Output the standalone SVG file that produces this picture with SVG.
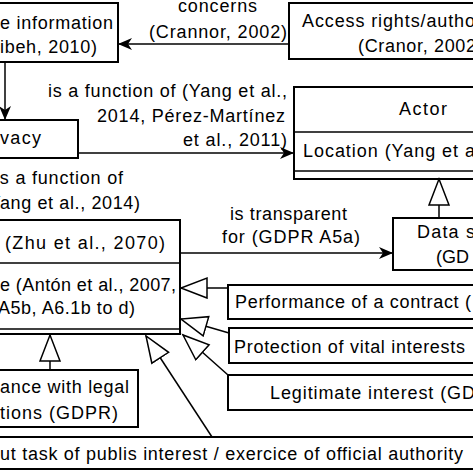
<svg xmlns="http://www.w3.org/2000/svg" width="473" height="473" viewBox="0 0 473 473">
<defs>
<style>
.box{fill:#fff;stroke:#000;stroke-width:2}
.div{stroke:#000;stroke-width:1.5;fill:none}
.edge{stroke:#000;stroke-width:1.5;fill:none}
text{font-family:"Liberation Sans",Arial,sans-serif;font-size:18px;fill:#000}
</style>
<marker id="arrow" markerUnits="userSpaceOnUse" markerWidth="16" markerHeight="14" refX="14" refY="6" orient="auto">
<path d="M0,0 L14,6 L0,12 L4,6 Z" fill="#000"/>
</marker>
<marker id="gen" markerUnits="userSpaceOnUse" markerWidth="30" markerHeight="24" refX="27" refY="11" orient="auto">
<path d="M1,1 L27,11 L1,21 Z" fill="#fff" stroke="#000" stroke-width="1.5"/>
</marker>
</defs>
<rect width="473" height="473" fill="#fff"/>

<g id="n-info">
<rect class="box" x="-10" y="3" width="128" height="59"/>
<text x="0" y="29" textLength="113" lengthAdjust="spacing">e information</text>
<text x="0" y="53" textLength="97" lengthAdjust="spacing">ibeh, 2010)</text>
</g>

<g id="n-access">
<rect class="box" x="289" y="3" width="200" height="56"/>
<text x="302" y="27" textLength="173" lengthAdjust="spacing">Access rights/autho</text>
<text x="358" y="52" textLength="118" lengthAdjust="spacing">(Cranor, 2002</text>
</g>

<g id="n-privacy">
<rect class="box" x="-10" y="120" width="88" height="38"/>
<text x="0" y="144" textLength="41" lengthAdjust="spacing">vacy</text>
</g>

<g id="n-actor">
<rect class="box" x="294" y="87" width="260" height="92"/>
<line class="div" x1="294" y1="132" x2="554" y2="132"/>
<line class="div" x1="294" y1="171" x2="554" y2="171"/>
<text x="423" y="115" text-anchor="middle" textLength="48" lengthAdjust="spacing">Actor</text>
<text x="303" y="157" textLength="172" lengthAdjust="spacing">Location (Yang et a</text>
</g>

<g id="n-datasubject">
<rect class="box" x="393" y="218" width="100" height="52"/>
<text x="417" y="238" textLength="58" lengthAdjust="spacing">Data s</text>
<text x="436" y="263">(GD</text>
</g>

<g id="n-purpose">
<rect class="box" x="-10" y="220" width="190" height="114"/>
<line class="div" x1="-10" y1="263" x2="180" y2="263"/>
<line class="div" x1="-10" y1="329" x2="180" y2="329"/>
<text x="5" y="249" textLength="160" lengthAdjust="spacing">(Zhu et al., 2070)</text>
<text x="0" y="291" textLength="176" lengthAdjust="spacing">e (Antón et al., 2007,</text>
<text x="-2" y="314" textLength="137" lengthAdjust="spacing">A5b, A6.1b to d)</text>
</g>

<g id="n-performance">
<rect class="box" x="228" y="285" width="260" height="34"/>
<text x="235" y="308" textLength="236" lengthAdjust="spacing">Performance of a contract (</text>
</g>

<g id="n-protection">
<rect class="box" x="229" y="328" width="260" height="35"/>
<text x="234" y="353" textLength="231" lengthAdjust="spacing">Protection of vital interests</text>
</g>

<g id="n-legitimate">
<rect class="box" x="228" y="375" width="260" height="35"/>
<text x="270" y="399" textLength="205" lengthAdjust="spacing">Legitimate interest (GD</text>
</g>

<g id="n-compliance">
<rect class="box" x="-10" y="370" width="148" height="57"/>
<text x="0" y="393" textLength="129" lengthAdjust="spacing">ance with legal</text>
<text x="0" y="419" textLength="118" lengthAdjust="spacing">tions (GDPR)</text>
</g>

<g id="n-public">
<rect class="box" x="-10" y="437" width="500" height="32"/>
<text x="0" y="460" textLength="463" lengthAdjust="spacing">ut task of publis interest / exercice of official authority</text>
</g>

<g id="connectors">
<line class="edge" x1="289" y1="44" x2="118" y2="44" marker-end="url(#arrow)"/>
<line class="edge" x1="5" y1="62" x2="5" y2="120" marker-end="url(#arrow)"/>
<line class="edge" x1="78" y1="153" x2="294" y2="153" marker-end="url(#arrow)"/>
<line class="edge" x1="180" y1="253" x2="393" y2="253" marker-end="url(#arrow)"/>
<line class="edge" x1="439" y1="218" x2="439" y2="179" marker-end="url(#gen)"/>
<line class="edge" x1="228" y1="288" x2="181" y2="288" marker-end="url(#gen)"/>
<line class="edge" x1="229" y1="333" x2="181" y2="319" marker-end="url(#gen)"/>
<line class="edge" x1="228" y1="375" x2="183" y2="335" marker-end="url(#gen)"/>
<line class="edge" x1="212" y1="437" x2="146" y2="336" marker-end="url(#gen)"/>
<line class="edge" x1="50" y1="370" x2="50" y2="335" marker-end="url(#gen)"/>
</g>

<g id="labels">
<text x="178" y="12" textLength="79" lengthAdjust="spacing">concerns</text>
<text x="149" y="38" textLength="138" lengthAdjust="spacing">(Crannor, 2002)</text>
<text x="48" y="97" textLength="239" lengthAdjust="spacing">is a function of (Yang et al.,</text>
<text x="97" y="122" textLength="188" lengthAdjust="spacing">2014, Pérez-Martínez</text>
<text x="183" y="146" textLength="104" lengthAdjust="spacing">et al., 2011)</text>
<text x="-5" y="184" textLength="128" lengthAdjust="spacing">is a function of</text>
<text x="-18" y="209" textLength="158" lengthAdjust="spacing">(Yang et al., 2014)</text>
<text x="230" y="220" textLength="117" lengthAdjust="spacing">is transparent</text>
<text x="222" y="243" textLength="138" lengthAdjust="spacing">for (GDPR A5a)</text>
</g>
</svg>
